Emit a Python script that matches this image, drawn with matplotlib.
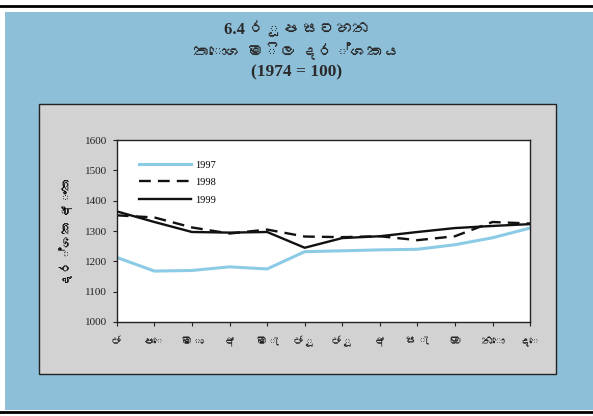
import matplotlib
matplotlib.use("Agg")
import matplotlib.pyplot as plt
from matplotlib import font_manager
from matplotlib.patches import Rectangle
from matplotlib.lines import Line2D


def sinhala_font():
    # look for any installed font that can draw Sinhala
    try:
        from fontTools.ttLib import TTFont
    except ImportError:
        return None
    for path in font_manager.findSystemFonts():
        try:
            f = TTFont(path, fontNumber=0, lazy=True)
            cmap = f.getBestCmap() or {}
            if ord("ස") in cmap and ord("ද") in cmap:
                return font_manager.FontProperties(fname=path).get_name()
        except Exception:
            continue
    return None


months = ["ජ", "පෙ", "මා", "අ", "මැ", "ජූ", "ජූ", "අ", "සැ", "ඔ", "නො", "දෙ"]
idx_1997 = [1213, 1168, 1170, 1182, 1175, 1232, 1235, 1238, 1240, 1255, 1278, 1310]
idx_1998 = [1352, 1345, 1312, 1292, 1305, 1282, 1280, 1283, 1270, 1283, 1330, 1325]
idx_1999 = [1365, 1330, 1297, 1295, 1297, 1245, 1277, 1283, 1297, 1310, 1317, 1323]
yticks = [1000, 1100, 1200, 1300, 1400, 1500, 1600]

sin = sinhala_font()
serif = ["Liberation Serif", "DejaVu Serif"]
txt_family = ["Liberation Serif"] + ([sin] if sin else []) + ["DejaVu Serif"]

fig = plt.figure(figsize=(5.93, 4.16), dpi=100)
fig.patch.set_facecolor("white")

# blue card and rules
fig.add_artist(Rectangle((0.0084, 0.0144), 0.992, 0.957, transform=fig.transFigure,
                         facecolor="#8dbfd9", edgecolor="none", zorder=0))
fig.add_artist(Line2D([0, 1], [0.985, 0.985], transform=fig.transFigure, color="black", lw=2))
fig.add_artist(Line2D([0, 1], [0.009, 0.009], transform=fig.transFigure, color="black", lw=2))
# grey panel
fig.add_artist(Rectangle((0.066, 0.101), 0.872, 0.649, transform=fig.transFigure,
                         facecolor="#d2d2d2", edgecolor="#222222", lw=1.0, zorder=1))

fig.text(0.5, 0.928, "6.4 රූප සටහන", ha="center", va="center", fontsize=12,
         fontweight="bold", family=txt_family, color="#2a2a2a")
fig.text(0.5, 0.875, "තොග මිල දර්ශකය", ha="center", va="center", fontsize=12,
         fontweight="bold", family=txt_family, color="#2a2a2a")
fig.text(0.5, 0.826, "(1974 = 100)", ha="center", va="center", fontsize=12.5,
         fontweight="bold", family=serif, color="#2a2a2a")

ax = fig.add_axes([0.197, 0.226, 0.697, 0.437])
ax.set_zorder(2)
ax.set_facecolor("white")
x = list(range(len(months)))
ax.plot(x, idx_1997, color="#8ccbe6", lw=2.2, label="1997")
ax.plot(x, idx_1998, color="#111111", lw=1.7, ls=(0, (5, 3)), label="1998")
ax.plot(x, idx_1999, color="#111111", lw=1.7, label="1999")

ax.set_xlim(0, 11)
ax.set_ylim(1000, 1600)
ax.set_yticks(yticks)
ax.set_yticklabels([str(v) for v in yticks], family=serif, fontsize=8)
ax.set_xticks(x)
ax.set_xticklabels(months, family=txt_family, fontsize=8.5)
ax.tick_params(axis="both", direction="out", length=3, width=0.8, colors="#222222")
ax.tick_params(axis="x", pad=7)
ax.tick_params(axis="y", pad=4)
for s in ax.spines.values():
    s.set_linewidth(1.0)
    s.set_color("#222222")

ax.set_ylabel("දර්ශක අංක", family=txt_family, fontsize=9.5, fontweight="bold",
              labelpad=8)

leg = ax.legend(loc="upper left", bbox_to_anchor=(0.035, 0.93), frameon=False,
                handlelength=5, prop={"family": serif, "size": 7.5},
                labelspacing=0.8, handletextpad=0.4, borderpad=0.2)

fig.savefig("out.png", dpi=100)
